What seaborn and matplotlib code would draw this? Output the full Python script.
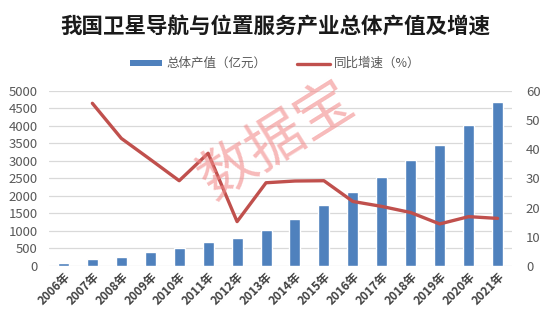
import numpy as np
import pandas as pd
import matplotlib
matplotlib.use("Agg")
import matplotlib.pyplot as plt
import seaborn as sns
from matplotlib.patches import Patch
from matplotlib.lines import Line2D

years = ["2006年", "2007年", "2008年", "2009年", "2010年", "2011年", "2012年", "2013年",
         "2014年", "2015年", "2016年", "2017年", "2018年", "2019年", "2020年", "2021年"]
output_value = [100, 195, 265, 395, 509, 690, 810, 1040,
                1343, 1735, 2118, 2550, 3016, 3450, 4033, 4690]
growth_rate = [np.nan, 55.7, 43.7, 36.5, 29.2, 38.6, 15.2, 28.5,
               29.1, 29.2, 22.1, 20.4, 18.3, 14.4, 16.9, 16.3]

title = "我国卫星导航与位置服务产业总体产值及增速"
bar_label = "总体产值（亿元）"
line_label = "同比增速（%）"

sns.set_theme(style="white")
plt.rcParams["font.family"] = ["Noto Sans CJK SC", "DejaVu Sans"]

df = pd.DataFrame({"year": years, "value": output_value, "growth": growth_rate})
df["pos"] = np.arange(len(df))

bar_color = "#4f81bd"
line_color = "#c0504d"
tick_color = "#595959"

fig = plt.figure(figsize=(5.5, 3.27), dpi=100)
ax = fig.add_axes([0.089, 0.1865, 0.842, 0.536])

sns.barplot(data=df, x="pos", y="value", color=bar_color, width=0.38,
            saturation=1, ax=ax, zorder=3)
ax.set_ylim(0, 5000)
ax.set_yticks(np.arange(0, 5001, 500))
ax.set_xlim(-0.5, len(df) - 0.5)
ax.yaxis.grid(True, color="#d9d9d9", linewidth=0.9, zorder=0)
ax.set_axisbelow(True)
ax.set_xlabel("")
ax.set_ylabel("")
ax.set_xticks(df["pos"])
ax.set_xticklabels(df["year"], rotation=45, ha="right", rotation_mode="anchor",
                   fontsize=8.5, fontweight="bold", color="#404040")
ax.tick_params(axis="x", length=0, pad=3)
ax.tick_params(axis="y", length=0, labelsize=9.5, labelcolor=tick_color, pad=8)
for s in ax.spines.values():
    s.set_visible(False)

ax2 = ax.twinx()
sns.lineplot(data=df, x="pos", y="growth", color=line_color, linewidth=2.4,
             ax=ax2, zorder=4)
ax2.set_ylim(0, 60)
ax2.set_yticks(np.arange(0, 61, 10))
ax2.set_xlim(-0.5, len(df) - 0.5)
ax2.set_ylabel("")
ax2.grid(False)
ax2.tick_params(axis="y", length=0, labelsize=9.5, labelcolor=tick_color, pad=10)
for s in ax2.spines.values():
    s.set_visible(False)

fig.text(0.5, 0.918, title, ha="center", va="center", fontsize=15.5,
         fontweight="bold", color="#1a1a1a")

# legend row
handles = [Patch(facecolor=bar_color, edgecolor="none"),
           Line2D([0], [0], color=line_color, linewidth=2.4)]
fig.legend(handles, [bar_label, line_label], loc="center", bbox_to_anchor=(0.5, 0.805),
           ncol=2, frameon=False, fontsize=9, handlelength=2.6, handleheight=0.35,
           columnspacing=2.5, handletextpad=0.3, labelcolor=tick_color)

# watermark
fig.text(0.504, 0.569, "数据宝", ha="center", va="center", fontsize=41,
         fontweight="light", color="#f28c8c", alpha=0.6, rotation=32, zorder=10)

fig.savefig("out.png", dpi=100)
